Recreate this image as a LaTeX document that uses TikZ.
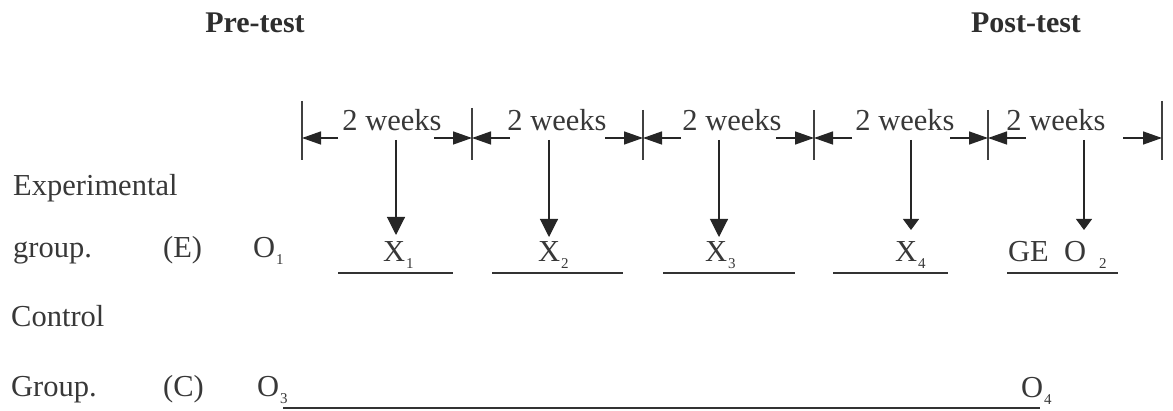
\documentclass[tikz,border=0pt]{standalone}
\usepackage{fontspec}
\setmainfont{Liberation Serif}
\usetikzlibrary{arrows.meta}
\newcommand{\lowsub}[1]{\kern1pt\raisebox{-7pt}{\fontsize{15}{15}\selectfont #1}}
\tikzset{
  lbl/.style={inner sep=0pt, text=black!78, font=\fontsize{30.5}{36}\selectfont},
  ttl/.style={inner sep=0pt, text=black!82, font=\fontsize{30}{36}\selectfont\bfseries},
  ln/.style={draw=black!80, line width=1.3pt},
  tick/.style={draw=black!75, line width=1.1pt},
  dimarrow/.style={draw=black!85, line width=1.4pt, -{Triangle[length=19pt,width=13pt]}},
  bigarrow/.style={draw=black!85, line width=1.1pt, -{Triangle[length=18pt,width=18pt]}},
  smallarrow/.style={draw=black!85, line width=1.1pt, -{Triangle[length=11pt,width=16pt]}}
}
\begin{document}
\begin{tikzpicture}[x=1pt,y=-1pt]
\useasboundingbox (0,0) rectangle (1173,411);
% titles
\node[ttl, anchor=base] (pre) at (255,33) {Pre-test};
\node[ttl, anchor=base] (post) at (1026,33) {Post-test};
% row labels
\node[lbl, anchor=base west] (exp) at (13,196) {Experimental};
\node[lbl, anchor=base west] (grpE) at (13,258) {group.};
\node[lbl, anchor=base west] (E) at (163,258) {(E)};
\node[lbl, anchor=base west] (O1) at (253,258) {O\lowsub{1}};
\node[lbl, anchor=base west] (ctl) at (11,327) {Control};
\node[lbl, anchor=base west] (grpC) at (11,397) {Group.};
\node[lbl, anchor=base west] (C) at (163,397) {(C)};
\node[lbl, anchor=base west] (O3) at (257,397) {O\lowsub{3}};
\node[lbl, anchor=base west] (O4) at (1021,398) {O\lowsub{4}};
% week labels
\node[lbl, anchor=base] (w1) at (392,131) {2 weeks};
\node[lbl, anchor=base] (w2) at (557,131) {2 weeks};
\node[lbl, anchor=base] (w3) at (732,131) {2 weeks};
\node[lbl, anchor=base] (w4) at (905,131) {2 weeks};
\node[lbl, anchor=base] (w5) at (1056,131) {2 weeks};
% treatment labels
\node[lbl, anchor=base west] (X1) at (383,262) {X\lowsub{1}};
\node[lbl, anchor=base west] (X2) at (538,262) {X\lowsub{2}};
\node[lbl, anchor=base west] (X3) at (705,262) {X\lowsub{3}};
\node[lbl, anchor=base west] (X4) at (895,262) {X\lowsub{4}};
\node[lbl, anchor=base west] (GE) at (1008,262) {GE\ \ O\hspace{12pt}\lowsub{2}};
% ticks
\foreach \i/\x/\t in {0/302/101,1/472/108,2/643/110,3/814/110,4/988/110,5/1162/101}{
  \coordinate (tt\i) at (\x,\t);
  \coordinate (tb\i) at (\x,160);
  \coordinate (t\i) at (\x,138);
  \draw[tick] (tt\i) -- (tb\i);
}
% dimension arrows
\coordinate (a0) at (338,138);
\draw[dimarrow] (a0) -- (t0);
\foreach \i/\x in {1/472,2/643,3/814,4/988}{
  \coordinate (l\i) at (\x-38,138);
  \coordinate (r\i) at (\x+38,138);
  \draw[dimarrow] (l\i) -- (t\i);
  \draw[dimarrow] (r\i) -- (t\i);
}
\coordinate (a5) at (1123,138);
\draw[dimarrow] (a5) -- (t5);
% vertical arrows
\coordinate (v1) at (396,140); \coordinate (e1) at (396,235);
\coordinate (v2) at (549,140); \coordinate (e2) at (549,237);
\coordinate (v3) at (719,140); \coordinate (e3) at (719,237);
\coordinate (v4) at (911,140); \coordinate (e4) at (911,230);
\coordinate (v5) at (1084,140); \coordinate (e5) at (1084,230);
\draw[bigarrow] (v1) -- (e1);
\draw[bigarrow] (v2) -- (e2);
\draw[bigarrow] (v3) -- (e3);
\draw[smallarrow] (v4) -- (e4);
\draw[smallarrow] (v5) -- (e5);
% underlines
\foreach \i/\a/\b in {1/338/453,2/492/623,3/663/795,4/833/948,5/1007/1118}{
  \coordinate (ua\i) at (\a,273);
  \coordinate (ub\i) at (\b,273);
  \draw[ln] (ua\i) -- (ub\i);
}
% control line
\coordinate (c0) at (283,408);
\coordinate (c1) at (1040,408);
\draw[ln] (c0) -- (c1);
\end{tikzpicture}
\end{document}
